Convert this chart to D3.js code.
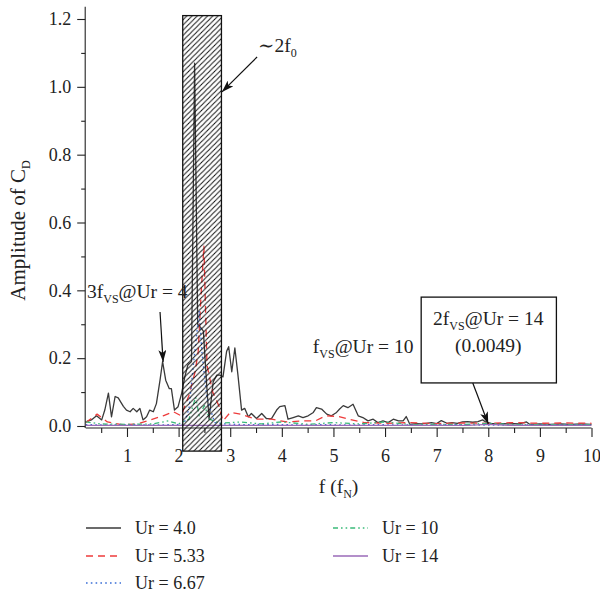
<!DOCTYPE html>
<html><head><meta charset="utf-8">
<script src="https://cdn.jsdelivr.net/npm/d3@7"></script>
<style>
body{margin:0;background:#fff;}
svg{font-family:"Liberation Serif","DejaVu Serif",serif;}
</style></head>
<body><svg id="c" width="600" height="597"></svg>
<script>
// ---- data ----
const seriesNames = ["Ur = 4.0","Ur = 5.33","Ur = 6.67","Ur = 10","Ur = 14"];
const xTicks = [1,2,3,4,5,6,7,8,9,10];
const yTicks = [0.0,0.2,0.4,0.6,0.8,1.0,1.2];
const ur4 = [[0.2,0.012],[0.31,0.018],[0.41,0.03],[0.51,0.018],[0.57,0.047],[0.64,0.097],[0.70,0.027],[0.77,0.087],[0.83,0.083],[0.93,0.058],[0.99,0.047],[1.06,0.042],[1.12,0.052],[1.19,0.042],[1.25,0.052],[1.31,0.018],[1.38,0.027],[1.44,0.047],[1.51,0.042],[1.57,0.066],[1.64,0.135],[1.69,0.19],[1.75,0.135],[1.82,0.11],[1.86,0.11],[1.92,0.047],[1.99,0.057],[2.06,0.097],[2.12,0.145],[2.18,0.18],[2.25,0.19],[2.31,1.07],[2.37,0.30],[2.43,0.29],[2.48,0.28],[2.54,0.13],[2.59,0.02],[2.67,0.13],[2.74,0.15],[2.80,0.15],[2.86,0.145],[2.93,0.22],[2.97,0.234],[3.03,0.16],[3.09,0.23],[3.15,0.15],[3.22,0.047],[3.28,0.052],[3.35,0.027],[3.41,0.037],[3.51,0.022],[3.61,0.037],[3.70,0.022],[3.80,0.022],[3.90,0.047],[3.96,0.057],[4.06,0.06],[4.12,0.02],[4.22,0.025],[4.32,0.03],[4.41,0.025],[4.51,0.03],[4.61,0.04],[4.67,0.054],[4.77,0.05],[4.87,0.035],[4.96,0.03],[5.06,0.04],[5.12,0.05],[5.19,0.06],[5.28,0.054],[5.38,0.064],[5.48,0.03],[5.57,0.025],[5.67,0.015],[5.77,0.02],[5.86,0.01],[5.96,0.015],[6.06,0.01],[6.16,0.02],[6.26,0.015],[6.35,0.015],[6.41,0.028],[6.48,0.005],[6.6,0.007],[6.7,0.006],[6.8,0.008],[6.9,0.01],[7.0,0.007],[7.09,0.016],[7.2,0.008],[7.3,0.01],[7.4,0.008],[7.5,0.012],[7.6,0.013],[7.7,0.011],[7.8,0.013],[7.89,0.018],[7.95,0.012],[8.05,0.008],[8.15,0.006],[8.3,0.007],[8.4,0.006],[8.5,0.007],[8.6,0.006],[8.74,0.012],[8.8,0.005],[9.0,0.006],[9.2,0.005],[9.4,0.006],[9.6,0.005],[9.8,0.006],[10.0,0.005]];
const ur533 = [[0.2,0.01],[0.42,0.035],[0.62,0.012],[0.9,0.004],[1.2,0.006],[1.45,0.018],[1.7,0.03],[1.9,0.042],[2.05,0.03],[2.2,0.09],[2.32,0.16],[2.38,0.22],[2.44,0.4],[2.49,0.53],[2.55,0.18],[2.66,0.1],[2.78,0.06],[2.86,0.015],[3.0,0.04],[3.2,0.035],[3.5,0.02],[3.8,0.02],[4.1,0.012],[4.4,0.015],[4.65,0.015],[4.85,0.03],[5.1,0.028],[5.3,0.02],[5.6,0.01],[6.0,0.008],[6.5,0.01],[7.0,0.007],[7.5,0.009],[8.0,0.008],[8.5,0.01],[9.0,0.008],[9.5,0.009],[10.0,0.008]];
const ur667 = [[0.2,0.004],[0.6,0.003],[1.0,0.004],[1.5,0.003],[1.9,0.004],[2.1,0.005],[2.2,0.05],[2.3,0.2],[2.4,0.34],[2.45,0.22],[2.55,0.08],[2.7,0.01],[2.9,0.006],[3.3,0.004],[3.8,0.005],[4.3,0.003],[4.8,0.004],[5.3,0.003],[5.8,0.004],[6.3,0.003],[6.8,0.003],[7.3,0.004],[7.8,0.003],[8.3,0.003],[8.8,0.003],[9.3,0.003],[10.0,0.003]];
const ur10 = [[0.2,0.012],[0.5,0.006],[1.0,0.005],[1.5,0.006],[1.8,0.015],[2.0,0.006],[2.2,0.02],[2.33,0.085],[2.4,0.03],[2.5,0.06],[2.6,0.02],[2.8,0.008],[3.2,0.012],[3.6,0.006],[4.0,0.012],[4.5,0.005],[5.0,0.01],[5.5,0.006],[6.0,0.012],[6.5,0.004],[7.0,0.005],[7.5,0.004],[8.0,0.008],[8.5,0.004],[9.0,0.004],[10.0,0.004]];
const ur14 = [[0.2,0.002],[1.0,0.002],[2.0,0.002],[3.0,0.002],[4.0,0.002],[5.0,0.002],[6.0,0.002],[7.0,0.002],[7.6,0.002],[8.0,0.0049],[8.4,0.002],[9.0,0.002],[10.0,0.002]];
const allSeries = [ur4, ur533, ur667, ur10, ur14];
const hatchBand = [2.08, 2.83];
const hatchAmp = [-0.074, 1.21];

// ---- styles ----
const colors = ["#3a3a3a","#ee3b3b","#3b6fd6","#3bbb7a","#9a6ab8"];
const dashes = [null,"7,5","1.6,3.2","5,3,1.6,3,1.6,3",null];
const widths = [1.3,1.3,1.3,1.3,1.3];

const svg = d3.select("#c");
const x = d3.scaleLinear().domain([0.2,10]).range([85.7,591.5]);
const y = d3.scaleLinear().domain([0,1.2]).range([426,19]);
const FS = 18, AFS = 19.5, SUB = 12;

// hatch pattern
const defs = svg.append("defs");
const pat = defs.append("pattern").attr("id","hatch").attr("patternUnits","userSpaceOnUse")
  .attr("width",5.2).attr("height",5.2);
pat.append("path").attr("d","M-1,1 l2,-2 M0,5.2 l5.2,-5.2 M4.2,6.2 l2,-2")
  .attr("stroke","#111").attr("stroke-width",1);

// curves
const line = d3.line().x(d=>x(d[0])).y(d=>y(d[1]));
allSeries.forEach((s,i)=>{
  svg.append("path").datum(s).attr("d",line).attr("fill","none")
    .attr("stroke",colors[i]).attr("stroke-width",widths[i])
    .attr("stroke-dasharray",dashes[i]).attr("stroke-linejoin","round");
});

// hatched band
svg.append("rect").attr("x",x(hatchBand[0])).attr("y",y(hatchAmp[1]))
  .attr("width",x(hatchBand[1])-x(hatchBand[0])).attr("height",y(hatchAmp[0])-y(hatchAmp[1]))
  .attr("fill","url(#hatch)").attr("stroke","#111").attr("stroke-width",1.3);

// axes
const xAxisY = 428;
const gx = svg.append("g").attr("transform",`translate(0,${xAxisY})`);
gx.call(d3.axisBottom(x).tickValues(xTicks).tickFormat(d3.format("d")).tickSize(9).tickSizeOuter(0));
const gxm = svg.append("g").attr("transform",`translate(0,${xAxisY})`);
gxm.call(d3.axisBottom(x).tickValues(d3.range(0.5,10,1)).tickFormat("").tickSize(5).tickSizeOuter(0));
gxm.select(".domain").remove();
gx.select(".domain").attr("d",`M${x(0.2)},0H${x(10)}`);
const yAxisX = x(0.2)-0.5;
const gy = svg.append("g").attr("transform",`translate(${yAxisX},0)`);
gy.call(d3.axisLeft(y).tickValues(yTicks).tickFormat(d3.format(".1f")).tickSize(8).tickSizeOuter(0));
gy.select(".domain").attr("d",`M0,${xAxisY}V${y(1.236)}`);
const gym = svg.append("g").attr("transform",`translate(${yAxisX},0)`);
gym.call(d3.axisLeft(y).tickValues(d3.range(0.1,1.2,0.2)).tickFormat("").tickSize(4).tickSizeOuter(0));
gym.select(".domain").remove();
svg.selectAll(".tick line, .domain").attr("stroke","#222").attr("stroke-width",1.1);
svg.selectAll(".tick text").attr("font-size",FS).attr("fill","#222")
  .attr("font-family",'"Liberation Serif",serif');
gx.selectAll(".tick text").attr("dy","1.2em");
gy.selectAll(".tick text").attr("x",-14);

// axis titles
const xt = svg.append("text").attr("x",(x(0.2)+x(10))/2).attr("y",493)
  .attr("text-anchor","middle").attr("font-size",AFS).attr("fill","#222");
xt.append("tspan").text("f (f");
xt.append("tspan").attr("font-size",SUB).attr("dy",5).text("N");
xt.append("tspan").attr("dy",-5).text(")");
const yt = svg.append("text").attr("transform",`translate(25,${(y(1.2)+y(0))/2+8}) rotate(-90)`)
  .attr("text-anchor","middle").attr("font-size",21).attr("fill","#222");
yt.append("tspan").text("Amplitude of C");
yt.append("tspan").attr("font-size",SUB).attr("dy",5).text("D");

// arrow marker
defs.append("marker").attr("id","arr").attr("viewBox","0 0 12 8").attr("refX",12).attr("refY",4)
  .attr("markerWidth",12).attr("markerHeight",8).attr("markerUnits","userSpaceOnUse").attr("orient","auto")
  .append("path").attr("d","M0,0 L12,4 L0,8 L3,4 Z").attr("fill","#111");
function arrow(a,b){
  svg.append("line").attr("x1",x(a[0])).attr("y1",y(a[1])).attr("x2",x(b[0])).attr("y2",y(b[1]))
    .attr("stroke","#111").attr("stroke-width",1.2).attr("marker-end","url(#arr)");
}
function subText(px,py,parts,anchor){
  const t = svg.append("text").attr("x",x(px)).attr("y",y(py)).attr("font-size",AFS)
    .attr("fill","#222").attr("text-anchor",anchor||"start");
  parts.forEach(p=>{
    if(p.sub){ t.append("tspan").attr("font-size",SUB).attr("dy",5).text(p.sub); }
    else { t.append("tspan").attr("dy",p.after?-5:0).text(p.t); }
  });
  return t;
}
// ~2f0
subText(3.54,1.103,[{t:"∼2f"},{sub:"0"}]);
arrow([3.52,1.088],[2.84,0.985]);
// 3fVS@Ur = 4
subText(0.225,0.377,[{t:"3f"},{sub:"VS"},{t:"@Ur = 4",after:true}]);
arrow([1.64,0.336],[1.70,0.189]);
// fVS@Ur = 10
subText(4.60,0.215,[{t:"f"},{sub:"VS"},{t:"@Ur = 10",after:true}]);
// box
svg.append("rect").attr("x",x(6.70)).attr("y",y(0.380)).attr("width",x(9.32)-x(6.70))
  .attr("height",y(0.127)-y(0.380)).attr("fill","#fff").attr("stroke","#111").attr("stroke-width",1.3);
subText(8.0,0.298,[{t:"2f"},{sub:"VS"},{t:"@Ur = 14",after:true}],"middle");
subText(8.0,0.218,[{t:"(0.0049)"}],"middle");
arrow([7.70,0.127],[8.0,0.006]);

// legend
const legPos = [[86,528],[86,556],[86,583],[333,528],[333,556]];
seriesNames.forEach((n,i)=>{
  const [lx,ly] = legPos[i];
  svg.append("line").attr("x1",lx).attr("x2",lx+35).attr("y1",ly).attr("y2",ly)
    .attr("stroke",colors[i]).attr("stroke-width",widths[i]+0.3).attr("stroke-dasharray",dashes[i]);
  svg.append("text").attr("x",lx+49).attr("y",ly+6).attr("font-size",FS).attr("fill","#222").text(n);
});
</script></body></html>
